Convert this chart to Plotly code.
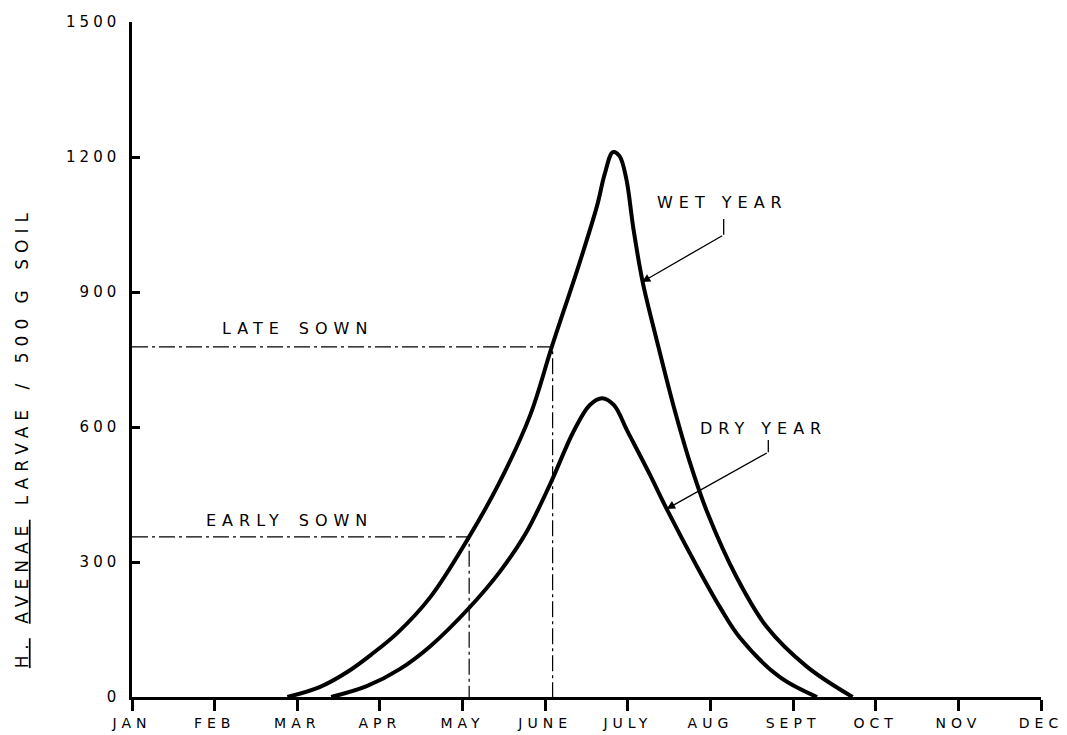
import plotly.graph_objects as go

# ---- data (x = months after 1 January; 0 = JAN ... 11 = DEC) ----
month_labels = ["JAN", "FEB", "MAR", "APR", "MAY", "JUNE", "JULY", "AUG", "SEPT", "OCT", "NOV", "DEC"]
month_pos = list(range(12))
y_ticks = [0, 300, 600, 900, 1200, 1500]

wet_x = [1.88, 2.27, 2.60, 2.90, 3.21, 3.61, 4.07, 4.45, 4.82, 5.08, 5.42, 5.63, 5.72, 5.82, 5.90, 5.98,
         6.07, 6.18, 6.35, 6.55, 6.75, 6.96, 7.32, 7.68, 8.17, 8.72]
wet_y = [0, 22, 55, 95, 142, 222, 353, 478, 627, 778, 967, 1093, 1162, 1211, 1202, 1153,
         1038, 922, 793, 649, 522, 411, 265, 156, 67, 0]

dry_x = [2.41, 2.84, 3.24, 3.61, 4.09, 4.45, 4.76, 5.06, 5.34, 5.54, 5.69, 5.83, 6.00, 6.27,
         6.47, 6.84, 7.12, 7.36, 7.84, 8.29]
dry_y = [0, 24, 62, 113, 200, 278, 362, 473, 589, 649, 664, 649, 589, 493,
         418, 289, 198, 131, 44, 0]

late_sown_level = 778
late_sown_date = 5.09
early_sown_level = 356
early_sown_date = 4.08

FONT = "DejaVu Sans"
dashdot = "16px,4px,3px,4px"

fig = go.Figure()

# sowing guide lines
for lvl, d in [(late_sown_level, late_sown_date), (early_sown_level, early_sown_date)]:
    fig.add_trace(go.Scatter(x=[0, d, d], y=[lvl, lvl, 0], mode="lines",
                             line=dict(color="black", width=1.2, dash=dashdot),
                             hoverinfo="skip", showlegend=False))

fig.add_trace(go.Scatter(x=wet_x, y=wet_y, mode="lines", name="WET YEAR",
                         line=dict(color="black", width=4, shape="spline", smoothing=1.0),
                         showlegend=False))
fig.add_trace(go.Scatter(x=dry_x, y=dry_y, mode="lines", name="DRY YEAR",
                         line=dict(color="black", width=4, shape="spline", smoothing=1.0),
                         showlegend=False))

# leader ticks for labels
wet_leader_x = [7.16, 7.16]
wet_leader_y = [1062, 1027]
dry_leader_x = [7.70, 7.70]
dry_leader_y = [571, 544]
for lx, ly in [(wet_leader_x, wet_leader_y), (dry_leader_x, dry_leader_y)]:
    fig.add_trace(go.Scatter(x=lx, y=ly, mode="lines", line=dict(color="black", width=1.3),
                             hoverinfo="skip", showlegend=False))

txt = dict(family=FONT, size=16, color="black")
fig.add_annotation(x=2.0, y=818, text="LATE\u2002SOWN", showarrow=False, font=txt)
fig.add_annotation(x=1.91, y=393, text="EARLY\u2002SOWN", showarrow=False, font=txt)
fig.add_annotation(x=7.15, y=1098, text="WET YEAR", showarrow=False, font=txt)
fig.add_annotation(x=7.64, y=596, text="DRY YEAR", showarrow=False, font=txt)

# arrows
fig.add_annotation(x=6.17, y=922, ax=7.16, ay=1027, axref="x", ayref="y", xref="x", yref="y",
                   text="", showarrow=True, arrowhead=2, arrowsize=1.3, arrowwidth=1.3, arrowcolor="black")
fig.add_annotation(x=6.47, y=418, ax=7.70, ay=544, axref="x", ayref="y", xref="x", yref="y",
                   text="", showarrow=True, arrowhead=2, arrowsize=1.3, arrowwidth=1.3, arrowcolor="black")

# y-axis title
fig.add_annotation(xref="paper", yref="paper", x=-0.121, y=0.385, xanchor="center", yanchor="middle",
                   textangle=-90, showarrow=False,
                   text="<u>H.</u>\u2002<u>AVENAE</u>\u2002LARVAE\u2002/\u2002500\u2009G\u2002SOIL",
                   font=dict(family=FONT, size=17, color="black"))

fig.update_layout(
    width=1059, height=727,
    margin=dict(l=124, r=26, t=14, b=38),
    paper_bgcolor="white", plot_bgcolor="white",
    font=dict(family=FONT, size=15, color="black"),
    xaxis=dict(range=[0, 11], tickmode="array", tickvals=month_pos, ticktext=month_labels,
               automargin=False,
               showgrid=False, zeroline=False, showline=True, linecolor="black", linewidth=2.5,
               ticks="outside", ticklen=11, tickwidth=2.5, tickcolor="black",
               ticklabelstandoff=0,
               tickfont=dict(family=FONT, size=14, color="black")),
    yaxis=dict(range=[0, 1500], tickmode="array", tickvals=y_ticks,
               automargin=False,
               showgrid=False, zeroline=False, showline=True, linecolor="black", linewidth=2.5,
               ticks="inside", ticklen=8, tickwidth=2.5, tickcolor="black",
               ticklabelstandoff=6,
               tickfont=dict(family=FONT, size=15, color="black")),
)

# wide, drafting-style letter spacing like the stencilled original
post = """
var gd = document.getElementsByClassName('plotly-graph-div')[0];
gd.querySelectorAll('.xtick text').forEach(function(t){ t.setAttribute('letter-spacing','5'); });
gd.querySelectorAll('.ytick text').forEach(function(t){ t.setAttribute('letter-spacing','4'); });
gd.querySelectorAll('.annotation-text').forEach(function(t){ t.setAttribute('letter-spacing','6'); });
"""

fig.write_html("out.html", post_script=post)
